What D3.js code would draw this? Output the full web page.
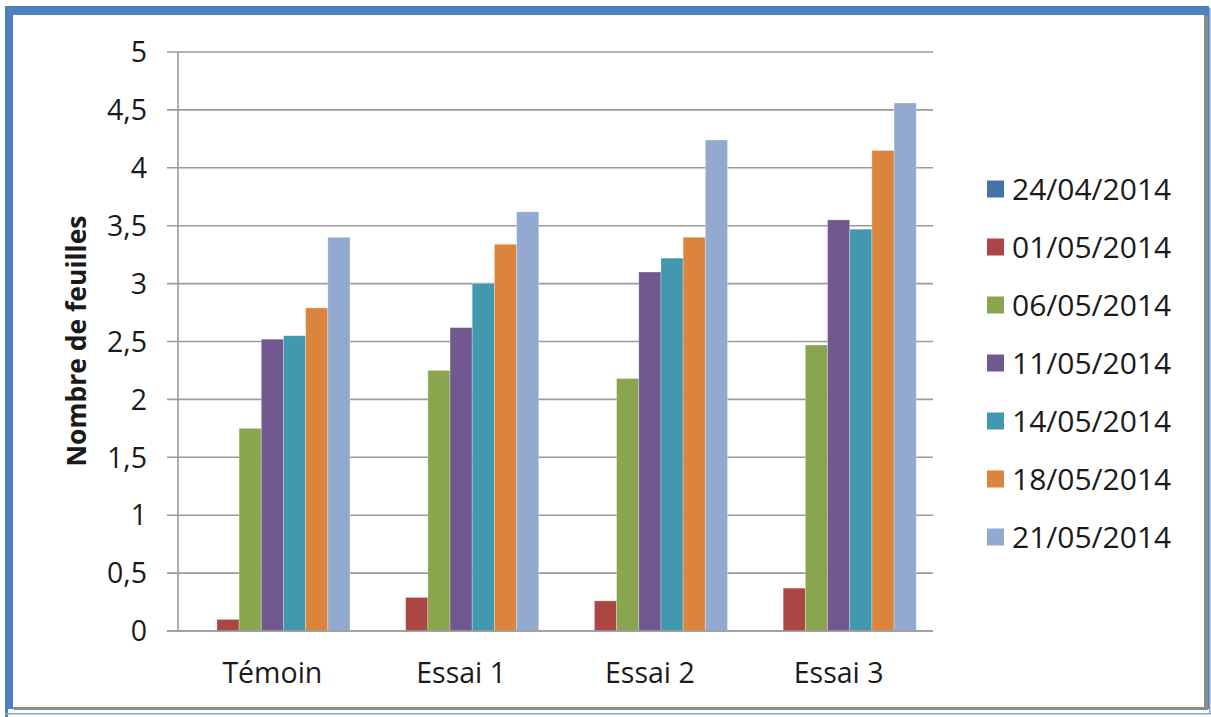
<!DOCTYPE html>
<html><head><meta charset="utf-8">
<script src="https://cdn.jsdelivr.net/npm/d3@7"></script>
<style>
html,body{margin:0;padding:0;background:#fff;}
text{font-family:"Open Sans","Noto Sans",sans-serif;fill:#1a1a1a;}
</style></head>
<body>
<svg id="chart" width="1211" height="717"></svg>
<script>
const categories = ["Témoin", "Essai 1", "Essai 2", "Essai 3"];
const seriesNames = ["24/04/2014","01/05/2014","06/05/2014","11/05/2014","14/05/2014","18/05/2014","21/05/2014"];
const s24_04 = [0, 0, 0, 0];
const s01_05 = [0.10, 0.29, 0.26, 0.37];
const s06_05 = [1.75, 2.25, 2.18, 2.47];
const s11_05 = [2.52, 2.62, 3.10, 3.55];
const s14_05 = [2.55, 3.00, 3.22, 3.47];
const s18_05 = [2.79, 3.34, 3.40, 4.15];
const s21_05 = [3.40, 3.62, 4.24, 4.56];
const seriesValues = [s24_04, s01_05, s06_05, s11_05, s14_05, s18_05, s21_05];
const colors = ["#4572A7","#AA4643","#89A54E","#71588F","#4198AF","#DB843D","#93A9CF"];
const yTicks = [0, 0.5, 1, 1.5, 2, 2.5, 3, 3.5, 4, 4.5, 5];
const yTitle = "Nombre de feuilles";

(function(){
const svg = d3.select("#chart");

// frame
svg.append("rect").attr("x",5).attr("y",6).attr("width",1206).attr("height",711).attr("fill","#4F81BD");
svg.append("rect").attr("x",8).attr("y",709).attr("width",1203).attr("height",8).attr("fill","#fff");
svg.append("rect").attr("x",1209).attr("y",6).attr("width",2).attr("height",711).attr("fill","#fff");
svg.append("rect").attr("x",5).attr("y",713).attr("width",1206).attr("height",1.5).attr("fill","#7FA6D8");
svg.append("rect").attr("x",1209).attr("y",8).attr("width",1.5).attr("height",706).attr("fill","#7FA6D8");
svg.append("rect").attr("x",14).attr("y",16).attr("width",1194).attr("height",694).attr("fill","#8c8c8c");
svg.append("rect").attr("x",13).attr("y",15).attr("width",1191).attr("height",692).attr("fill","#fff");

const pLeft = 178, pRight = 933, pTop = 52, pBottom = 631;
const x0 = d3.scaleBand().domain(categories).range([pLeft, pRight]).paddingInner(0.1775).paddingOuter(0.1775/2);
const x1 = d3.scaleBand().domain(seriesNames).range([0, x0.bandwidth()]);
const y = d3.scaleLinear().domain([0, 5]).range([pBottom, pTop]);

// gridlines
svg.append("g").selectAll("line").data(yTicks).join("line")
  .attr("x1", pLeft - 11).attr("x2", pRight)
  .attr("y1", d => y(d)).attr("y2", d => y(d))
  .attr("stroke", "#9a9a9a").attr("stroke-width", 1.6);

// y axis line
svg.append("line").attr("x1", pLeft).attr("x2", pLeft).attr("y1", pTop).attr("y2", pBottom)
  .attr("stroke", "#9a9a9a").attr("stroke-width", 1.6);

// bars
const groups = svg.append("g").selectAll("g").data(categories).join("g")
  .attr("transform", d => `translate(${x0(d)},0)`);
groups.selectAll("rect").data((c, ci) => seriesNames.map((s, si) => ({s, si, v: seriesValues[si][ci]})))
  .join("rect")
  .attr("x", d => x1(d.s))
  .attr("width", x1.bandwidth())
  .attr("y", d => y(d.v))
  .attr("height", d => y(0) - y(d.v))
  .attr("fill", d => colors[d.si])
  .attr("stroke", "rgba(255,255,255,0.35)").attr("stroke-width", 0.8);

// baseline over bars
svg.append("line").attr("x1", pLeft - 11).attr("x2", pRight).attr("y1", y(0)).attr("y2", y(0))
  .attr("stroke", "#9a9a9a").attr("stroke-width", 1.6);

// y tick labels
svg.append("g").selectAll("text").data(yTicks).join("text")
  .attr("x", 147).attr("y", d => y(d)).attr("dy", "0.36em")
  .attr("text-anchor", "end").attr("font-size", 28.5)
  .text(d => d3.format("")(d).replace(".", ","));

// category labels
svg.append("g").selectAll("text").data(categories).join("text")
  .attr("x", d => x0(d) + x0.bandwidth() / 2).attr("y", 683)
  .attr("text-anchor", "middle").attr("font-size", 28.5)
  .text(d => d);

// y title
svg.append("text")
  .attr("transform", `translate(86,341) rotate(-90)`)
  .attr("text-anchor", "middle").attr("font-size", 26.5).attr("font-weight", "bold")
  .text(yTitle);

// legend
const lg = svg.append("g").selectAll("g").data(seriesNames).join("g")
  .attr("transform", (d, i) => `translate(987,${189 + i * 58})`);
lg.append("rect").attr("x", 0).attr("y", -8.5).attr("width", 17).attr("height", 17)
  .attr("fill", (d, i) => colors[i]);
lg.append("text").attr("x", 25).attr("y", 0).attr("dy", "0.36em")
  .attr("font-size", 30).text(d => d);
})();
</script>
</body></html>
